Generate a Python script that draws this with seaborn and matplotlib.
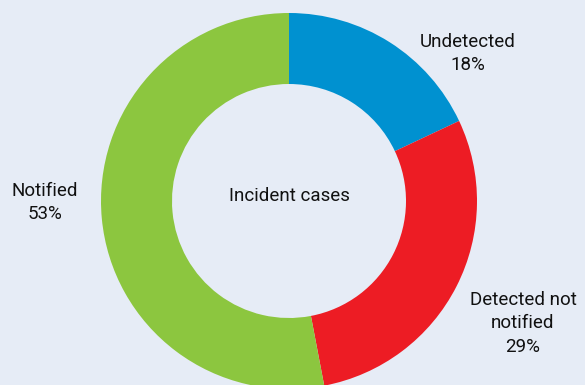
import matplotlib
matplotlib.use("Agg")
import matplotlib.pyplot as plt
import seaborn as sns

# Share of incident cases by detection / notification status
categories = ["Undetected", "Detected not\nnotified", "Notified"]
shares = [18, 29, 53]
colors = ["#0091d0", "#ed1c24", "#8cc63f"]
center_label = "Incident cases"

sns.set_theme(style="white")
plt.rcParams["font.family"] = ["Roboto", "DejaVu Sans"]
palette = sns.color_palette(colors)

bg = "#e6ecf6"
fig = plt.figure(figsize=(5.85, 3.85), dpi=100, facecolor=bg)
ax = fig.add_axes([0, 0, 1, 1])
ax.set_facecolor(bg)

cx, cy, R, ring = 289, 184, 188, 71
ax.pie(shares, colors=palette, startangle=90, counterclock=False,
       center=(cx, cy), radius=R, frame=True,
       wedgeprops=dict(width=ring, linewidth=0))
ax.set_xlim(0, 585)
ax.set_ylim(0, 385)
ax.set_aspect("equal")
ax.axis("off")

ax.text(cx, 189, center_label, ha="center", va="center", fontsize=13.5, color="#111111")

# top edge of each outside label block
label_pos = [(468, 352), (523, 94), (45, 203)]
for name, val, (x, y) in zip(categories, shares, label_pos):
    ax.text(x, y, f"{name}\n{val}%", ha="center", va="top", fontsize=13.5,
            color="#111111", linespacing=1.38)

fig.savefig("out.png", dpi=100, facecolor=bg)
